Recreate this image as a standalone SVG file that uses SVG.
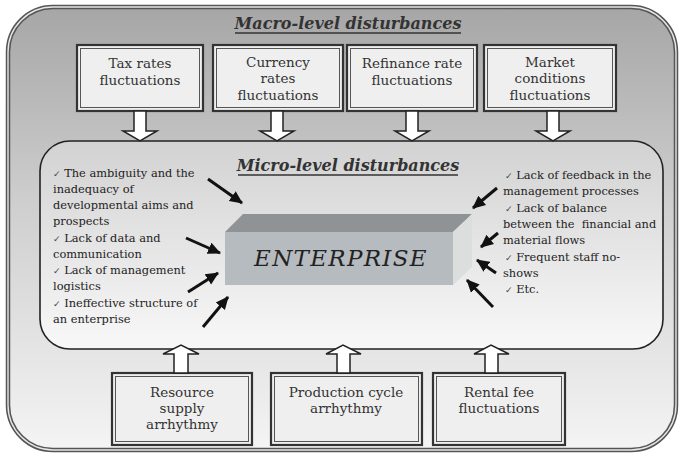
<svg xmlns="http://www.w3.org/2000/svg" width="679" height="454" viewBox="0 0 679 454">
<defs>
<linearGradient id="gOuter" x1="0" y1="0" x2="0" y2="1">
<stop offset="0" stop-color="#a6a6a6"/>
<stop offset="0.45" stop-color="#cfcfcf"/>
<stop offset="1" stop-color="#f4f4f4"/>
</linearGradient>
<linearGradient id="gInner" x1="0" y1="0" x2="0" y2="1">
<stop offset="0" stop-color="#d2d2d2"/>
<stop offset="1" stop-color="#f8f8f8"/>
</linearGradient>
<marker id="ah" markerUnits="userSpaceOnUse" markerWidth="14" markerHeight="14" viewBox="0 0 14 14" refX="12" refY="7" orient="auto">
<path d="M0,1 L13,7 L0,13 Z" fill="#111"/>
</marker>
</defs>
<style>
text{font-family:'DejaVu Serif','Liberation Serif',serif}
.box{fill:#efefef;stroke:#333;stroke-width:2.2}
.boxin{fill:none;stroke:#555;stroke-width:1}
.lbl{font-size:13.5px;fill:#333;text-anchor:middle}
.ttl{font-size:16px;font-weight:bold;font-style:italic;fill:#333;text-anchor:middle}
.ul{stroke:#333;stroke-width:1.3}
.txt{font-size:11.4px;fill:#222}
.ck{font-family:'DejaVu Sans',sans-serif;font-size:9px;fill:#444}
.ent{font-size:23px;font-style:italic;fill:#222;text-anchor:middle;letter-spacing:1.3px}
.blk{fill:#fff;stroke:#222;stroke-width:1.5;stroke-linejoin:miter}
.arr{stroke:#111;stroke-width:3;fill:none;marker-end:url(#ah)}
</style>

<g id="macro">
<rect x="8" y="7" width="668" height="443" rx="45" ry="45" fill="url(#gOuter)" stroke="#555" stroke-width="4.5"/>
<rect x="8" y="7" width="668" height="443" rx="45" ry="45" fill="none" stroke="#e6e6e6" stroke-width="1.4"/>
<text class="ttl" x="348" y="29">Macro-level disturbances</text>
<line class="ul" x1="235" y1="33" x2="461" y2="33"/>
</g>

<g id="micro">
<rect x="40" y="141" width="623" height="208" rx="30" ry="30" fill="url(#gInner)" stroke="#222" stroke-width="1.6"/>
<text class="ttl" x="348" y="171">Micro-level disturbances</text>
<line class="ul" x1="238" y1="175" x2="458" y2="175"/>
</g>

<g id="tax">
<rect class="box" x="77" y="45" width="126" height="66"/>
<rect class="boxin" x="80.5" y="48.5" width="119" height="59"/>
<text class="lbl" x="140" y="68">Tax rates</text>
<text class="lbl" x="140" y="85">fluctuations</text>
</g>
<g id="currency">
<rect class="box" x="213" y="45" width="130" height="66"/>
<rect class="boxin" x="216.5" y="48.5" width="123" height="59"/>
<text class="lbl" x="278" y="67">Currency</text>
<text class="lbl" x="278" y="83">rates</text>
<text class="lbl" x="278" y="100">fluctuations</text>
</g>
<g id="refinance">
<rect class="box" x="347" y="45" width="130" height="66"/>
<rect class="boxin" x="350.5" y="48.5" width="123" height="59"/>
<text class="lbl" x="412" y="68">Refinance rate</text>
<text class="lbl" x="412" y="85">fluctuations</text>
</g>
<g id="market">
<rect class="box" x="484" y="45" width="132" height="66"/>
<rect class="boxin" x="487.5" y="48.5" width="125" height="59"/>
<text class="lbl" x="550" y="67">Market</text>
<text class="lbl" x="550" y="83">conditions</text>
<text class="lbl" x="550" y="100">fluctuations</text>
</g>

<g id="enterprise">
<polygon points="225,232 243,214 472,214 453,232" fill="#8f9396"/>
<polygon points="453,232 472,214 472,267 453,285" fill="#dcdede"/>
<rect x="225" y="232" width="228" height="53" fill="#b6bbbf"/>
<text class="ent" x="341" y="266">ENTERPRISE</text>
</g>

<g id="left-list">
<text class="txt" x="53" y="177"><tspan class="ck">✓</tspan> The ambiguity and the</text>
<text class="txt" x="53" y="193">inadequacy of</text>
<text class="txt" x="53" y="209">developmental aims and</text>
<text class="txt" x="53" y="225">prospects</text>
<text class="txt" x="53" y="242"><tspan class="ck">✓</tspan> Lack of data and</text>
<text class="txt" x="53" y="258">communication</text>
<text class="txt" x="53" y="274"><tspan class="ck">✓</tspan> Lack of management</text>
<text class="txt" x="53" y="290">logistics</text>
<text class="txt" x="53" y="307"><tspan class="ck">✓</tspan> Ineffective structure of</text>
<text class="txt" x="53" y="323">an enterprise</text>
</g>

<g id="right-list">
<text class="txt" x="505" y="179"><tspan class="ck">✓</tspan> Lack of feedback in the</text>
<text class="txt" x="503" y="195">management processes</text>
<text class="txt" x="505" y="212"><tspan class="ck">✓</tspan> Lack of balance</text>
<text class="txt" x="503" y="228" xml:space="preserve">between the  financial and</text>
<text class="txt" x="503" y="244">material flows</text>
<text class="txt" x="505" y="261"><tspan class="ck">✓</tspan> Frequent staff no-</text>
<text class="txt" x="503" y="277">shows</text>
<text class="txt" x="505" y="293"><tspan class="ck">✓</tspan> Etc.</text>
</g>

<g id="resource">
<rect class="box" x="112" y="373" width="140" height="72"/>
<rect class="boxin" x="115.5" y="376.5" width="133" height="65"/>
<text class="lbl" x="182" y="397">Resource</text>
<text class="lbl" x="182" y="413">supply</text>
<text class="lbl" x="182" y="429">arrhythmy</text>
</g>
<g id="production">
<rect class="box" x="271" y="373" width="151" height="72"/>
<rect class="boxin" x="274.5" y="376.5" width="144" height="65"/>
<text class="lbl" x="346" y="397">Production cycle</text>
<text class="lbl" x="346" y="413">arrhythmy</text>
</g>
<g id="rental">
<rect class="box" x="433" y="373" width="132" height="72"/>
<rect class="boxin" x="436.5" y="376.5" width="125" height="65"/>
<text class="lbl" x="499" y="397">Rental fee</text>
<text class="lbl" x="499" y="413">fluctuations</text>
</g>

<g id="connectors">
<path class="blk" d="M134,111 H146 V131 H157 L140,141 L123,131 H134 Z"/>
<path class="blk" d="M271,111 H283 V131 H294 L277,141 L260,131 H271 Z"/>
<path class="blk" d="M406,111 H418 V131 H429 L412,141 L395,131 H406 Z"/>
<path class="blk" d="M547,111 H559 V131 H570 L553,141 L536,131 H547 Z"/>
<path class="blk" d="M174,373 V354 H163 L181,345 L199,354 H188 V373 Z"/>
<path class="blk" d="M337,373 V354 H326 L343,345 L361,354 H350 V373 Z"/>
<path class="blk" d="M485,373 V354 H474 L491,345 L509,354 H498 V373 Z"/>
<line class="arr" x1="208" y1="179" x2="242" y2="203"/>
<line class="arr" x1="186" y1="238" x2="220" y2="253"/>
<line class="arr" x1="188" y1="292" x2="218" y2="273"/>
<line class="arr" x1="203" y1="327" x2="228" y2="297"/>
<line class="arr" x1="497" y1="188" x2="473" y2="208"/>
<line class="arr" x1="498" y1="233" x2="481" y2="247"/>
<line class="arr" x1="496" y1="273" x2="477" y2="260"/>
<line class="arr" x1="493" y1="307" x2="467" y2="280"/>
</g>
</svg>
